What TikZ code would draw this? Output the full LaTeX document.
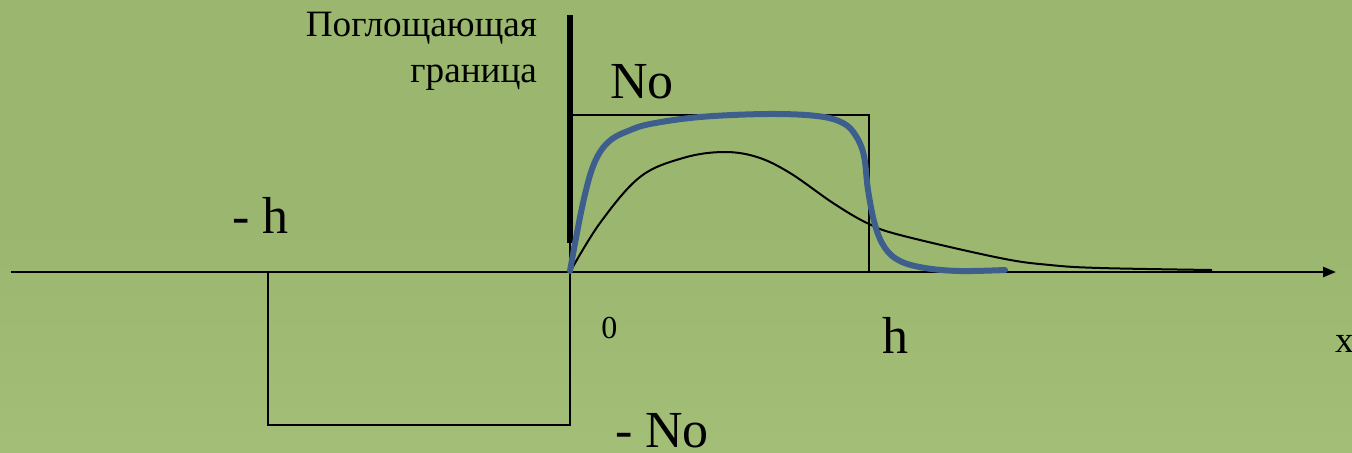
\documentclass[tikz,border=0pt]{standalone}
\usepackage{fontspec}
\setmainfont{Liberation Serif}
\usetikzlibrary{arrows.meta}
\definecolor{bgtop}{RGB}{155,183,111}
\definecolor{bgbot}{RGB}{162,190,119}
\definecolor{bluecurve}{RGB}{62,94,142}
\begin{document}
\begin{tikzpicture}[x=0.5pt,y=-0.5pt,
  lbl/.style={inner sep=0pt,outer sep=0pt,font=\fontsize{26}{30}\selectfont},
  small/.style={inner sep=0pt,outer sep=0pt,font=\fontsize{18.6}{22}\selectfont},
  thinline/.style={line width=1pt,black},
  axisline/.style={line width=1.25pt,black,-{Triangle[length=6.5pt,width=5pt]}},
  wall/.style={line width=3pt,black},
  bluel/.style={line width=3pt,bluecurve,line cap=round},
]
\shade[top color=bgtop,bottom color=bgbot,middle color=bgtop] (0,0) rectangle (1352,452);
\useasboundingbox (0,0) rectangle (1352,452);
% rectangles
\draw[thinline] (570,115) rectangle (869,272);
\draw[thinline] (268,272) rectangle (570,425);
% axis
\coordinate (a0) at (11,272);
\coordinate (a1) at (1336,272);
\draw[axisline] (a0) -- (a1);
% absorbing wall
\coordinate (w0) at (570,15);
\coordinate (w1) at (570,243);
\draw[wall] (w0) -- (w1);
% thin black curve
\draw[thinline] plot[smooth,tension=0.6] coordinates {
 (570,272) (600,223) (640,177) (683,158) (723,152) (757,157) (790,173)
 (833,203) (867,223) (900,235) (1000,258) (1050,265) (1100,268) (1212,270)};
% blue curve
\draw[bluel] plot[smooth,tension=0.6] coordinates {
 (570,271) (576,238) (583,203) (591,172) (600,152) (612,139) (628,131)
 (650,124) (700,117) (767,114)
 (817,116) (843,123) (856,136) (864,156) (868,190) (875,225) (885,248)
 (900,261) (925,268) (960,271) (1005,270)};
% labels
\node[small,anchor=base east] (t1) at (537,36) {Поглощающая};
\node[small,anchor=base east] (t2) at (537,82) {граница};
\node[lbl,anchor=base west] (no) at (610,98) {No};
\node[lbl,anchor=base west] (mh) at (232,233) {- h};
\node[inner sep=0pt,font=\fontsize{16}{18}\selectfont,anchor=base west] (zero) at (601,338) {0};
\node[lbl,anchor=base west] (h) at (882,353) {h};
\node[small,anchor=base west] (x) at (1335,352) {x};
\node[lbl,anchor=base west] (mno) at (615,447) {- No};
\end{tikzpicture}
\end{document}
